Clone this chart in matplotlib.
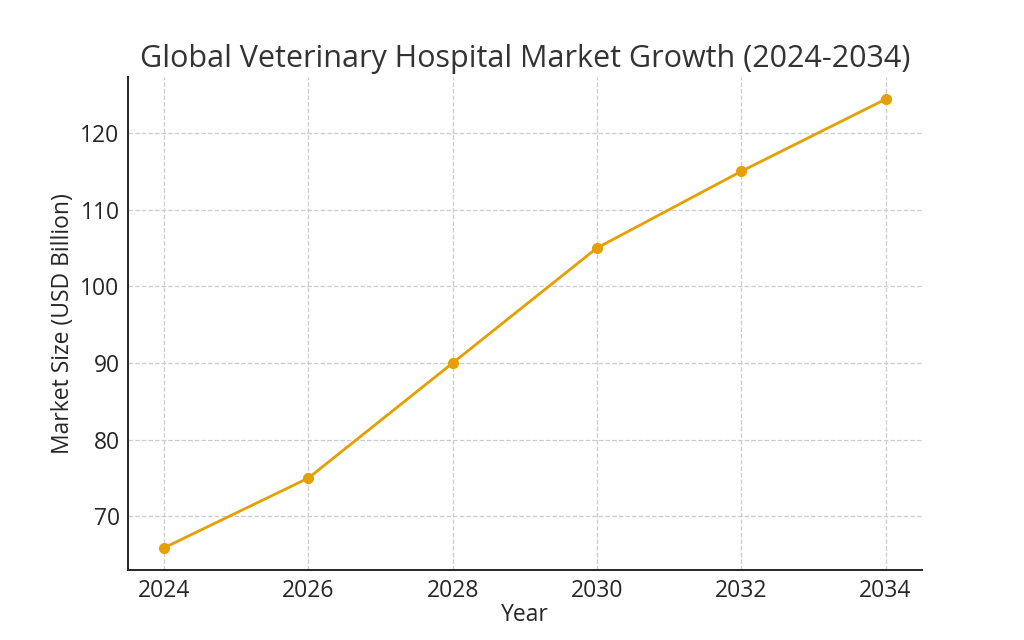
import matplotlib
matplotlib.use('Agg')
from matplotlib import pyplot as plt

plt.rcParams['font.family'] = ['Open Sans', 'DejaVu Sans']

# Data
years = [2024, 2026, 2028, 2030, 2032, 2034]
market_size = [65.9, 75, 90, 105, 115, 124.4]

fig = plt.figure(figsize=(10.24, 6.4), dpi=100)
ax = fig.add_axes([0.125, 0.109, 0.775, 0.771])

ax.plot(years, market_size, marker='o', color='#E69F00', linewidth=2, markersize=7)

ax.set_title('Global Veterinary Hospital Market Growth (2024-2034)', fontsize=22, color='#333333', pad=7)
ax.set_xlabel('Year', fontsize=16.5, color='#262626', labelpad=0)
ax.set_ylabel('Market Size (USD Billion)', fontsize=16.5, color='#262626')
ax.set_xticks(years)
ax.tick_params(labelsize=16.5, colors='#262626', length=0, pad=6)
ax.grid(True, linestyle='--', color='#cccccc', linewidth=0.9)
ax.spines['top'].set_visible(False)
ax.spines['right'].set_visible(False)
for s in ('left', 'bottom'):
    ax.spines[s].set_color('#262626')
    ax.spines[s].set_linewidth(1.4)

fig.savefig('out.png', dpi=100)
